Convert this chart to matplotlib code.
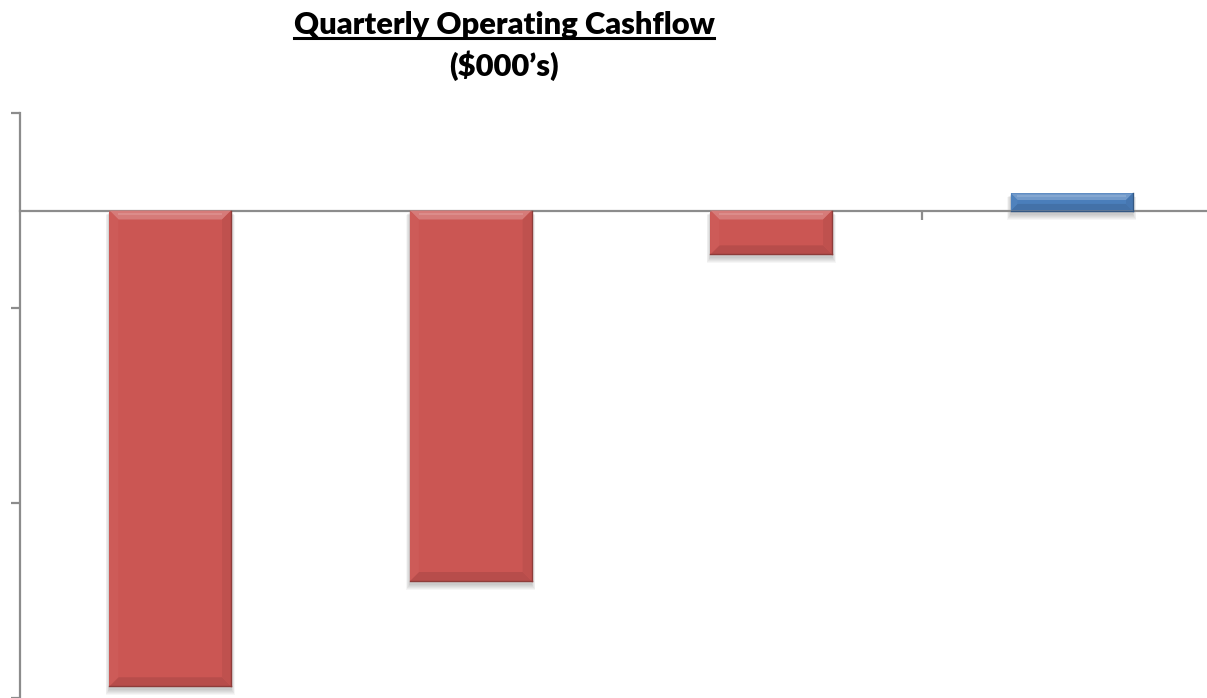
import matplotlib
matplotlib.use("Agg")
import matplotlib.pyplot as plt
from matplotlib.patches import Polygon, Rectangle
from matplotlib.lines import Line2D

# Quarterly operating cashflow, $000's
quarters = ["Q1", "Q2", "Q3", "Q4"]
cashflow = [-4880, -3800, -450, 175]

NEG_COLOR = "#CB5653"
POS_COLOR = "#4A7EBB"
AXIS_COLOR = "#8C8C8C"

W, H, DPI = 1207, 698, 100
fig = plt.figure(figsize=(W / DPI, H / DPI), dpi=DPI)
fig.patch.set_facecolor("white")

ax = fig.add_axes([20 / W, 0.0, 1202 / W, 585 / H])
ax.set_xlim(-0.5, 3.5)
ax.set_ylim(-5000, 1000)

bar_w = 0.405


def shade(hex_color, f):
    r, g, b = matplotlib.colors.to_rgb(hex_color)
    if f >= 0:
        return (r + (1 - r) * f, g + (1 - g) * f, b + (1 - b) * f)
    return (r * (1 + f), g * (1 + f), b * (1 + f))


# pixel -> data conversions for bevel and shadow sizes
px_x = 4.0 / 1202
px_y = 6000.0 / 585

for i, v in enumerate(cashflow):
    base = NEG_COLOR if v < 0 else POS_COLOR
    x0, x1 = i - bar_w / 2, i + bar_w / 2
    y0, y1 = min(0, v), max(0, v)

    # soft drop shadow
    for k in range(6, 0, -1):
        ax.add_patch(Rectangle((x0 - k * 0.6 * px_x, y0 - (3 + k) * px_y),
                               (x1 - x0) + 2 * k * 0.6 * px_x,
                               (y1 - y0) + (2 + k * 0.5) * px_y,
                               facecolor="black", edgecolor="none",
                               alpha=0.035, zorder=1))

    ax.bar(i, v, width=bar_w, color=base, edgecolor="none", zorder=2)

    hpx = (y1 - y0) / px_y
    bpx = min(9.0, hpx / 2.6)
    bx, by = bpx * px_x, bpx * px_y
    top = [(x0, y1), (x1, y1), (x1 - bx, y1 - by), (x0 + bx, y1 - by)]
    bot = [(x0, y0), (x1, y0), (x1 - bx, y0 + by), (x0 + bx, y0 + by)]
    left = [(x0, y1), (x0 + bx, y1 - by), (x0 + bx, y0 + by), (x0, y0)]
    right = [(x1, y1), (x1 - bx, y1 - by), (x1 - bx, y0 + by), (x1, y0)]
    ax.add_patch(Polygon(top, closed=True, facecolor=shade(base, 0.22),
                         edgecolor="none", zorder=3))
    ax.add_patch(Polygon(bot, closed=True, facecolor=shade(base, -0.1),
                         edgecolor="none", zorder=3))
    ax.add_patch(Polygon(left, closed=True, facecolor=shade(base, 0.03),
                         edgecolor="none", zorder=3))
    ax.add_patch(Polygon(right, closed=True, facecolor=shade(base, -0.06),
                         edgecolor="none", zorder=3))
    # thin highlight strip along the lit edge
    ax.add_patch(Rectangle((x0 + bx, y1 - by * 0.55), (x1 - x0) - 2 * bx,
                           by * 0.3, facecolor=shade(base, 0.32),
                           edgecolor="none", zorder=3.1))
    # dark outline on the shaded edges
    ax.plot([x1, x1], [y0, y1], color=shade(base, -0.3), lw=1.0, zorder=3.2)
    ax.plot([x0, x1], [y0, y0], color=shade(base, -0.3), lw=1.0, zorder=3.2)

# axes styling
for side in ("top", "right"):
    ax.spines[side].set_visible(False)
ax.spines["left"].set_color(AXIS_COLOR)
ax.spines["left"].set_linewidth(1.6)
ax.spines["bottom"].set_position(("data", 0))
ax.spines["bottom"].set_color(AXIS_COLOR)
ax.spines["bottom"].set_linewidth(1.6)
ax.spines["bottom"].set_zorder(2.5)

ax.set_yticks([1000, -1000, -3000, -5000])
ax.set_yticklabels([])
ax.set_xticks([2.5])
ax.set_xticklabels([])
ax.tick_params(axis="both", direction="out", length=6.5, width=1.6,
               color=AXIS_COLOR)
ax.set_facecolor("none")

# title with underline on the first line
title_x = 504 / W
title_font = dict(ha="center", va="center", fontsize=22.2, fontweight="heavy",
                  family=["Lato", "DejaVu Sans"])
t1 = fig.text(title_x, 1 - 25 / H, "Quarterly Operating Cashflow",
              **title_font)
fig.text(title_x, 1 - 66 / H, "($000\u2019s)", **title_font)

fig.canvas.draw()
bb = t1.get_window_extent(renderer=fig.canvas.get_renderer())
uy = (bb.y0 + 1) / H
fig.add_artist(Line2D([bb.x0 / W, bb.x1 / W], [uy, uy], color="black",
                      lw=2.2, transform=fig.transFigure))

fig.savefig("out.png", dpi=DPI, facecolor="white")
